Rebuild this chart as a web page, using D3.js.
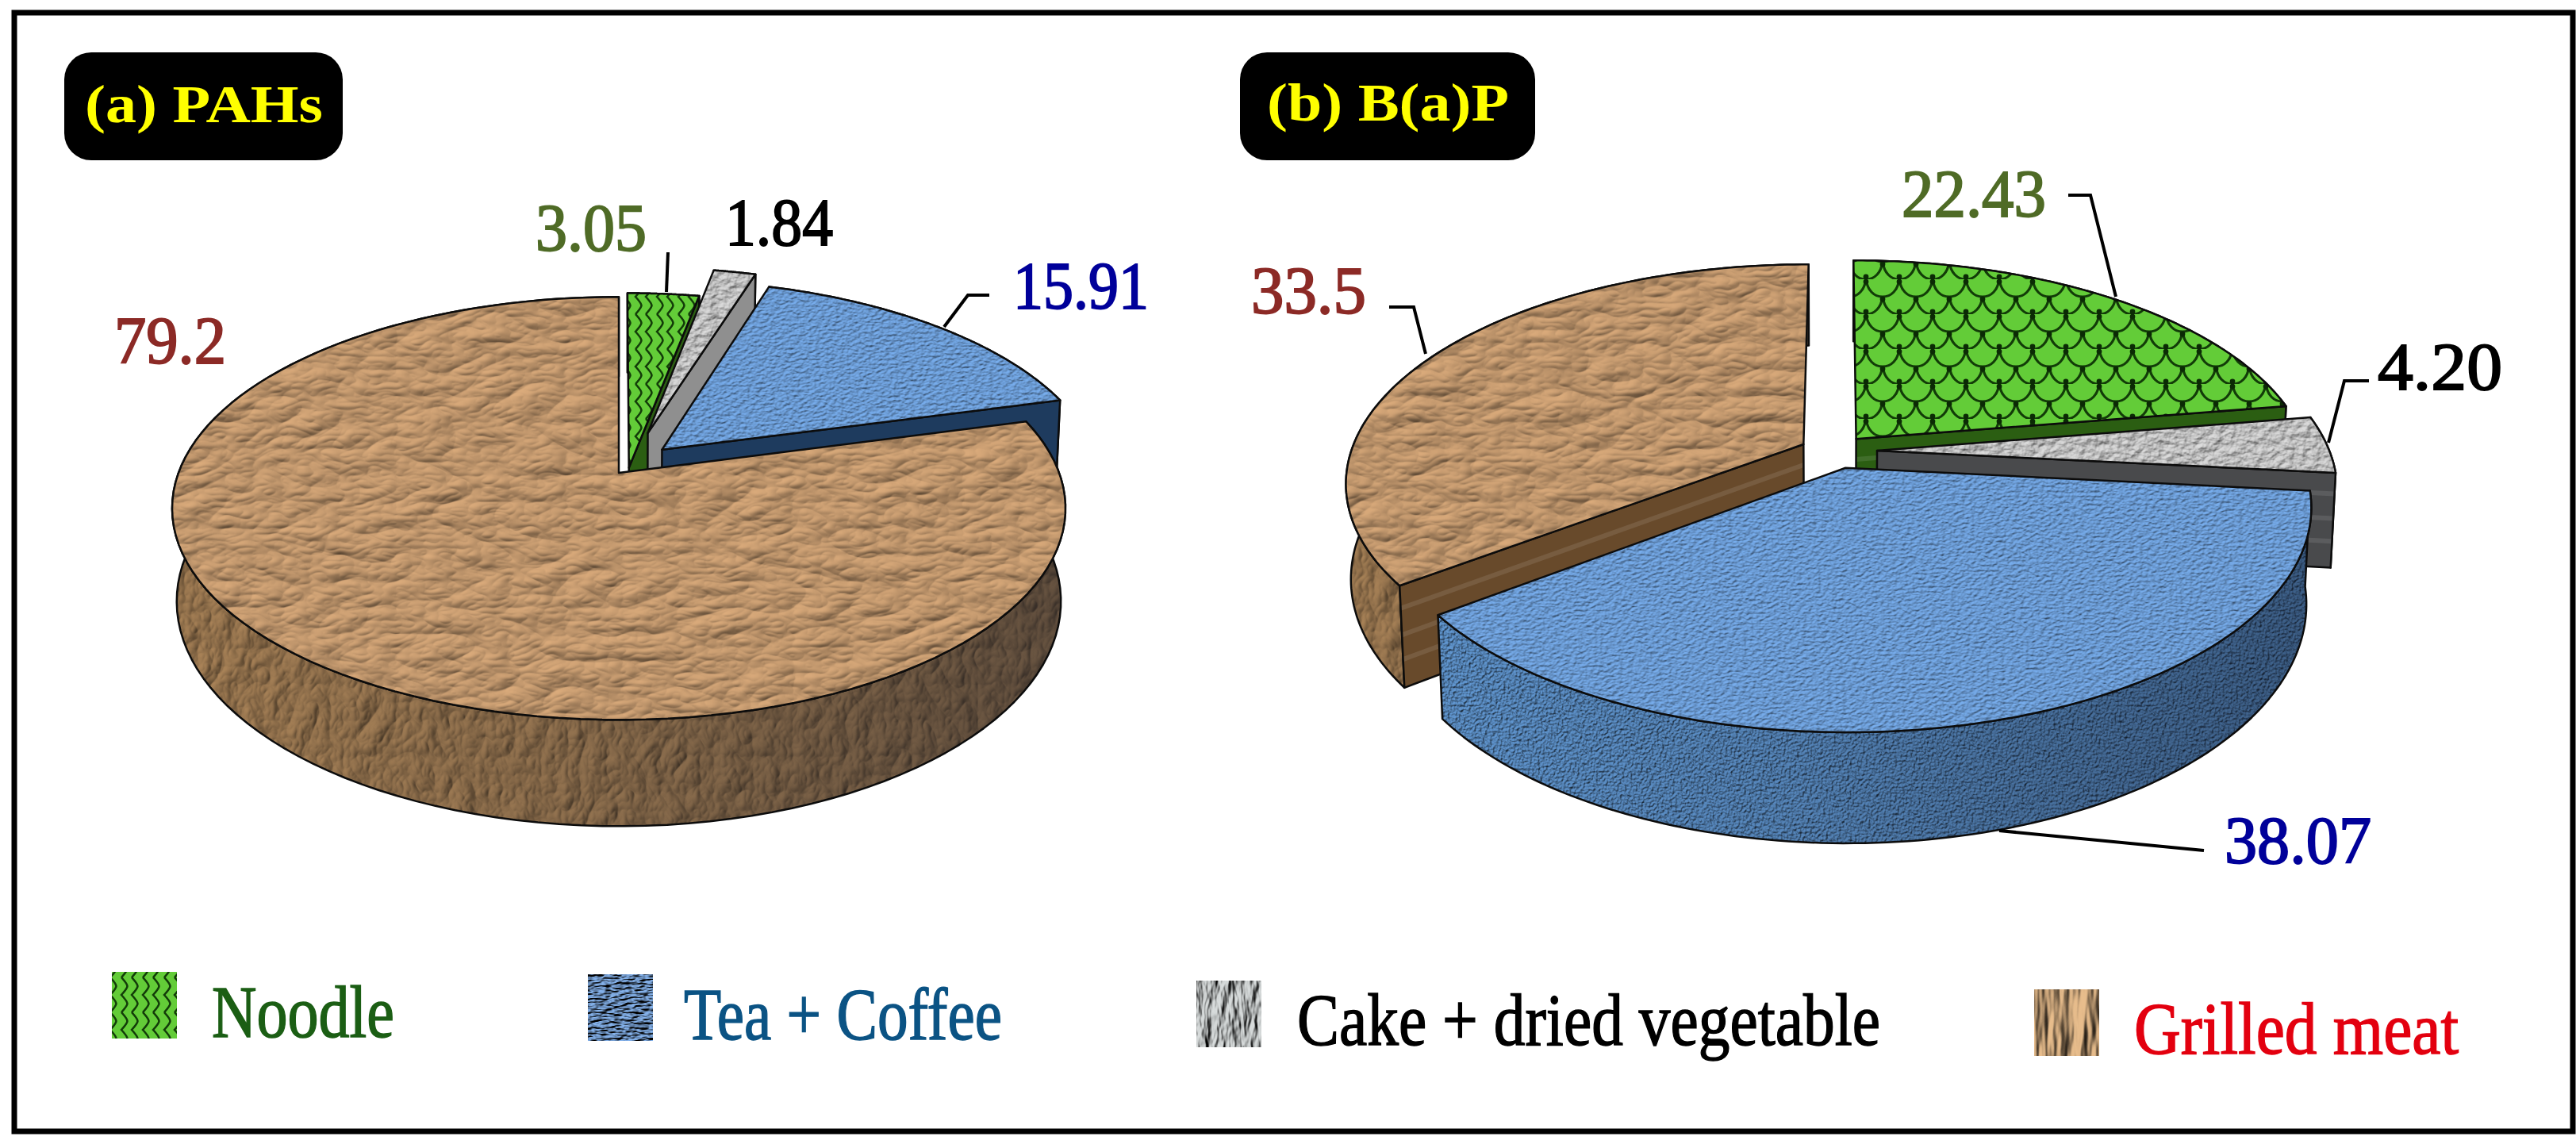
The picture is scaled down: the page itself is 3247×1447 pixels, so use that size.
<!DOCTYPE html>
<html>
<head>
<meta charset="utf-8">
<script src="https://cdn.jsdelivr.net/npm/d3@7"></script>
<style>
  html, body { margin: 0; background: #fff; }
  svg { display: block; }
  text { font-family: "Liberation Serif", serif; }
</style>
</head>
<body>
<script>
'use strict';

// chart data
const categories = ["Noodle", "Tea + Coffee", "Cake + dried vegetable", "Grilled meat"]
const sliceNames = ["Noodle", "Cake + dried vegetable", "Tea + Coffee", "Grilled meat"]
const valuesA = [3.05, 1.84, 15.91, 79.2]
const valuesB = [22.43, 4.20, 38.07, 33.5]
const labelsA = ["3.05", "1.84", "15.91", "79.2"]
const labelsB = ["22.43", "4.20", "38.07", "33.5"]

const W = 3247, H = 1447

// values run clockwise from 12 o'clock, in percent
const angle = d3.scaleLinear().domain([0, 100]).range([0, 2 * Math.PI])

const svg = d3.select('body').append('svg').attr('width', W).attr('height', H)
const defs = svg.append('defs')

// lit noise textures
function noiseFilter(id, type, freq, octaves, seed, scale, color, azimuth, elevation) {
  const f = defs.append('filter').attr('id', id)
    .attr('x', '-5%').attr('y', '-5%').attr('width', '110%').attr('height', '110%')
    .attr('color-interpolation-filters', 'sRGB')
  f.append('feTurbulence').attr('type', type).attr('baseFrequency', freq)
    .attr('numOctaves', octaves).attr('seed', seed).attr('result', 'n')
  f.append('feDiffuseLighting').attr('in', 'n').attr('surfaceScale', scale)
    .attr('diffuseConstant', 1).attr('lighting-color', color).attr('result', 'lit')
    .append('feDistantLight').attr('azimuth', azimuth).attr('elevation', elevation)
  f.append('feComposite').attr('in', 'lit').attr('in2', 'SourceAlpha').attr('operator', 'in')
}
noiseFilter('brownTop', 'turbulence', '0.014 0.03', 3, 7, 3.5, '#dcac7c', 235, 58)
noiseFilter('brownWall', 'turbulence', '0.03 0.022', 3, 3, 3.5, '#ab8458', 215, 58)
noiseFilter('blueTop', 'fractalNoise', '0.16 0.3', 2, 5, 1.6, '#78aeee', 235, 62)
noiseFilter('blueWall', 'fractalNoise', '0.3 0.3', 2, 9, 2.4, '#6299d4', 235, 60)
noiseFilter('greyTop', 'fractalNoise', '0.09 0.12', 3, 11, 2.5, '#dcdcdc', 235, 60)
noiseFilter('greySwatch', 'fractalNoise', '0.09 0.03', 3, 4, 7, '#d8dcdc', 200, 55)
noiseFilter('blueSwatch', 'fractalNoise', '0.09 0.3', 2, 2, 7, '#86b4ee', 235, 58)
noiseFilter('brownSwatch', 'fractalNoise', '0.05 0.01', 3, 6, 10, '#e8bd8c', 190, 55)

// darkening across the curved outer walls
const shade = defs.append('linearGradient').attr('id', 'wallShade')
shade.selectAll('stop').data([[0, 0], [0.4, 0.12], [0.75, 0.3], [1, 0.42]]).join('stop')
  .attr('offset', d => d[0]).attr('stop-color', '#0a1020').attr('stop-opacity', d => d[1])

// green scale patterns, wavy for (a) and the legend, scallops for (b)
const wavy = defs.append('pattern').attr('id', 'greenWavy').attr('patternUnits', 'userSpaceOnUse')
  .attr('width', 27).attr('height', 44)
wavy.append('rect').attr('width', 27).attr('height', 44).attr('fill', '#63cc38')
wavy.append('path').attr('fill', 'none').attr('stroke', '#123c08').attr('stroke-width', 2.6)
  .attr('d', 'M4,0 C14,11 14,11 4,22 C14,33 14,33 4,44 M18,0 C28,11 28,11 18,22 C28,33 28,33 18,44')

const scallop = defs.append('pattern').attr('id', 'greenScale').attr('patternUnits', 'userSpaceOnUse')
  .attr('width', 42).attr('height', 44)
scallop.append('rect').attr('width', 42).attr('height', 44).attr('fill', '#63cc38')
scallop.append('path').attr('fill', 'none').attr('stroke', '#123c08').attr('stroke-width', 3.2)
  .attr('d', 'M0,0 C2,14 10,22 21,22 C32,22 40,14 42,0 M-21,22 C-19,36 -11,44 0,44 C11,44 19,36 21,22 C23,36 31,44 42,44 C53,44 61,36 63,22')
scallop.selectAll('circle').data([[0, 3], [42, 3], [21, 25], [0, 41], [42, 41]]).join('circle')
  .attr('cx', d => d[0]).attr('cy', d => d[1]).attr('r', 3.4).attr('fill', '#0b2a05')

// how each food is painted
const looks = {
  "Noodle": { cut: '#2b5e12', wall: '#2b5e12' },
  "Cake + dried vegetable": { top: 'greyTop', cut: '#8f8f8f', wall: '#7d7d7d' },
  "Tea + Coffee": { top: 'blueTop', cut: '#1e3b5e', wall: 'blueWall' },
  "Grilled meat": { top: 'brownTop', cut: '#684a2b', wall: 'brownWall' }
}

// projection and explosion of the two pies
const panelA = {
  cx: 780, cy: 596, R: 555, A: 259, D: 116, k: 0.168, m: 0.01,
  green: 'greenWavy',
  offsets: [[0.023, 0.025], [0.068, 0.2], [0.10, 0.115], [0, 0]],
  order: [0, 1, 2, 3],
  cutOverride: {},
  stripes: false
}
const panelB = {
  cx: 2317, cy: 568, R: 570, A: 268, D: 119, k: 0.171, m: 0.01,
  green: 'greenScale',
  offsets: [[0.04, 0.056], [0.086, 0], [0.016, -0.08], [-0.077, 0.03]],
  order: [0, 1, 3, 2],
  cutOverride: { "Cake + dried vegetable": '#494a4c' },
  stripes: true
}

function face(g, pts, fill, filter) {
  const p = g.append('path').attr('d', d3.line()(pts) + 'Z')
    .attr('fill', fill)
  if (filter) p.attr('filter', 'url(#' + filter + ')')
  return p
}

function outline(g, pts, width) {
  g.append('path').attr('d', d3.line()(pts) + 'Z')
    .attr('fill', 'none').attr('stroke', '#0c0c0c')
    .attr('stroke-width', width).attr('stroke-linejoin', 'round')
}

function drawPie(cfg, values) {
  const g = svg.append('g')
  const ends = d3.cumsum(values)

  function project(X, Y, z) {
    const s = 1 / (1 + cfg.k * Y + cfg.m * z)
    return [cfg.cx + X * cfg.R * s, cfg.cy - (cfg.A * Y - cfg.D * z) * s]
  }

  cfg.order.forEach(i => {
    const name = sliceNames[i]
    const look = looks[name]
    const off = cfg.offsets[i]
    const a0 = angle(i ? ends[i - 1] : 0)
    // the published (b) values stop short of 100, the last slice still closes the circle
    const a1 = i === values.length - 1 ? 2 * Math.PI : angle(ends[i])
    const at = (r, a, z) => project(off[0] + r * Math.sin(a), off[1] + r * Math.cos(a), z)

    const steps = d3.range(0, 121).map(t => a0 + (a1 - a0) * t / 120)
    const rimTop = steps.map(a => at(1, a, 0))
    const rimBot = steps.map(a => at(1, a, 1))

    // rim first, then the cut faces that look at the viewer, then the top
    const wallPts = rimTop.concat(rimBot.slice().reverse())
    if (look.wall[0] === '#') {
      face(g, wallPts, look.wall)
    } else {
      face(g, wallPts, '#000', look.wall)
      face(g, wallPts, 'url(#wallShade)')
    }
    outline(g, wallPts, 2.5)

    const cuts = []
    if (Math.sin(a0) < -1e-6) cuts.push(a0)
    if (Math.sin(a1) > 1e-6) cuts.push(a1)
    cuts.forEach(a => {
      const pts = [at(0, a, 0), at(1, a, 0), at(1, a, 1), at(0, a, 1)]
      face(g, pts, cfg.cutOverride[name] || look.cut)
      if (cfg.stripes) {
        ;[0.22, 0.48, 0.72].forEach(z => {
          g.append('path').attr('d', d3.line()([at(0, a, z), at(1, a, z)]))
            .attr('stroke', '#ffffff').attr('stroke-opacity', 0.1).attr('stroke-width', 6)
        })
      }
      outline(g, pts, 2.5)
    })

    const topPts = [at(0, a0, 0)].concat(rimTop)
    if (name === "Noodle") face(g, topPts, 'url(#' + cfg.green + ')')
    else face(g, topPts, '#000', look.top)
    outline(g, topPts, 2.5)
  })
}

drawPie(panelA, valuesA)
drawPie(panelB, valuesB)

// value labels, same order as the slices
const labelColors = ['#4f6b26', '#000000', '#00009a', '#8c2a26']
const labelSpotsA = [[675, 316, 140], [914, 309, 136], [1277, 389, 171], [144, 458, 141]]
const labelSpotsB = [[2397, 273, 182], [2997, 491, 157], [2804, 1088, 185], [1577, 395, 145]]

function drawLabels(labels, spots) {
  svg.append('g').selectAll('text').data(labels).join('text')
    .attr('x', (d, i) => spots[i][0])
    .attr('y', (d, i) => spots[i][1])
    .attr('textLength', (d, i) => spots[i][2])
    .attr('lengthAdjust', 'spacingAndGlyphs')
    .attr('font-size', 84)
    .attr('fill', (d, i) => labelColors[i])
    .attr('stroke', (d, i) => labelColors[i])
    .attr('stroke-width', 2)
    .text(d => d)
}
drawLabels(labelsA, labelSpotsA)
drawLabels(labelsB, labelSpotsB)

// leader lines
const leaders = [
  [[842, 318], [840, 368]],
  [[1247, 372], [1220, 372], [1190, 412]],
  [[2607, 246], [2635, 246], [2667, 374]],
  [[1751, 387], [1782, 387], [1797, 446]],
  [[2986, 480], [2955, 480], [2935, 558]],
  [[2778, 1072], [2520, 1047]]
]
svg.append('g').selectAll('path').data(leaders).join('path')
  .attr('d', d => d3.line()(d))
  .attr('fill', 'none').attr('stroke', '#000').attr('stroke-width', 4)

// panel badges
const badges = [
  { text: "(a) PAHs", x: 81, w: 351, tx: 107, tw: 300, base: 154 },
  { text: "(b) B(a)P", x: 1563, w: 372, tx: 1597, tw: 305, base: 152 }
]
const badge = svg.append('g').selectAll('g').data(badges).join('g')
badge.append('rect')
  .attr('x', d => d.x).attr('y', 66).attr('width', d => d.w).attr('height', 136)
  .attr('rx', 34).attr('fill', '#000')
badge.append('text')
  .attr('x', d => d.tx).attr('y', d => d.base)
  .attr('textLength', d => d.tw).attr('lengthAdjust', 'spacingAndGlyphs')
  .attr('font-size', 68).attr('font-weight', 'bold').attr('fill', '#ffff00')
  .text(d => d.text)

// legend
const legendSpots = [
  { sx: 141, sy: 1225, tx: 267, tw: 230, base: 1307, color: '#1b5e14', fill: 'url(#greenWavy)' },
  { sx: 741, sy: 1228, tx: 862, tw: 401, base: 1310, color: '#0b5384', filter: 'blueSwatch' },
  { sx: 1508, sy: 1236, tx: 1635, tw: 735, base: 1317, color: '#000000', filter: 'greySwatch' },
  { sx: 2564, sy: 1247, tx: 2690, tw: 409, base: 1328, color: '#e3000f', filter: 'brownSwatch' }
]
const legend = svg.append('g').selectAll('g').data(categories).join('g')
legend.append('rect')
  .attr('x', (d, i) => legendSpots[i].sx).attr('y', (d, i) => legendSpots[i].sy)
  .attr('width', 82).attr('height', 84)
  .attr('fill', (d, i) => legendSpots[i].fill || '#000')
  .attr('filter', (d, i) => legendSpots[i].filter ? 'url(#' + legendSpots[i].filter + ')' : null)
legend.append('text')
  .attr('x', (d, i) => legendSpots[i].tx).attr('y', (d, i) => legendSpots[i].base)
  .attr('textLength', (d, i) => legendSpots[i].tw).attr('lengthAdjust', 'spacingAndGlyphs')
  .attr('font-size', 94).attr('fill', (d, i) => legendSpots[i].color)
  .attr('stroke', (d, i) => legendSpots[i].color).attr('stroke-width', 1.5)
  .text(d => d)

// outer frame
svg.append('rect').attr('x', 18).attr('y', 16).attr('width', 3225).attr('height', 1410)
  .attr('fill', 'none').attr('stroke', '#000').attr('stroke-width', 7)
</script>
</body>
</html>
